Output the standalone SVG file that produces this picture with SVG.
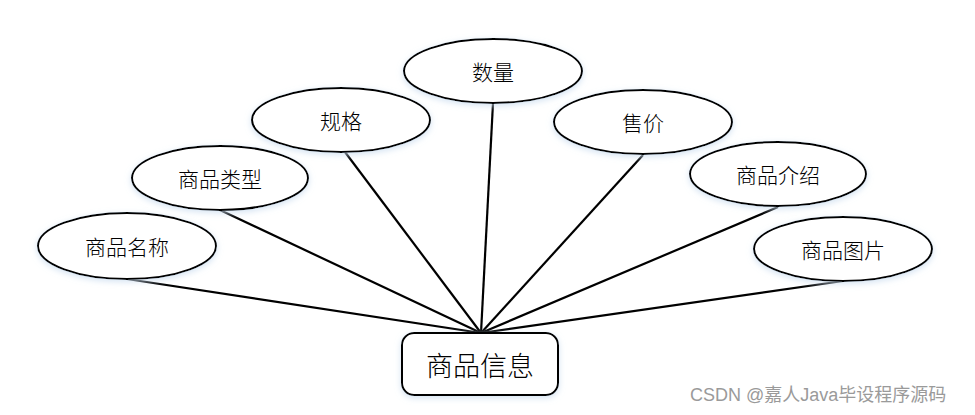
<svg xmlns="http://www.w3.org/2000/svg" width="975" height="415" viewBox="0 0 975 415">
  <style>
    .attr { fill: #ffffff; stroke: #000000; stroke-width: 2; }
    .ent { fill: #ffffff; stroke: #000000; stroke-width: 2; }
    .label { font-family: "Noto Sans CJK SC", "Liberation Serif", serif; font-size: 21px; font-weight: 300; fill: #000000; text-anchor: middle; dominant-baseline: central; }
    .title { font-family: "Noto Sans CJK SC", "Liberation Sans", sans-serif; font-size: 27px; font-weight: 300; fill: #000000; text-anchor: middle; dominant-baseline: central; }
    .link { stroke: #000000; stroke-width: 2.2; fill: none; }
    .wm { font-family: "Liberation Sans", "Noto Sans CJK SC", sans-serif; font-size: 18px; fill: #9a9a9a; }
  </style>
  <defs>
    <filter id="glow" x="-20%" y="-30%" width="140%" height="160%">
      <feDropShadow dx="0" dy="2" stdDeviation="3" flood-color="#c9dcef" flood-opacity="0.8"/>
    </filter>
  </defs>
  <rect width="975" height="415" fill="#ffffff"/>

  <g id="connectors">
    <line class="link" x1="127" y1="279" x2="481" y2="333"/>
    <line class="link" x1="220" y1="210" x2="481" y2="333"/>
    <line class="link" x1="345" y1="152" x2="481" y2="333"/>
    <line class="link" x1="493" y1="103" x2="481" y2="333"/>
    <line class="link" x1="643" y1="155" x2="481" y2="333"/>
    <line class="link" x1="778" y1="207" x2="481" y2="333"/>
    <line class="link" x1="843" y1="281" x2="481" y2="333"/>
  </g>

  <g id="attr-name">
    <ellipse class="attr" filter="url(#glow)" cx="127" cy="246" rx="89" ry="33"/>
    <text class="label" x="127" y="246">商品名称</text>
  </g>
  <g id="attr-type">
    <ellipse class="attr" filter="url(#glow)" cx="220" cy="178" rx="88" ry="32"/>
    <text class="label" x="220" y="178">商品类型</text>
  </g>
  <g id="attr-spec">
    <ellipse class="attr" filter="url(#glow)" cx="341" cy="120" rx="89" ry="32"/>
    <text class="label" x="341" y="120">规格</text>
  </g>
  <g id="attr-qty">
    <ellipse class="attr" filter="url(#glow)" cx="493" cy="71" rx="89" ry="32"/>
    <text class="label" x="493" y="71">数量</text>
  </g>
  <g id="attr-price">
    <ellipse class="attr" filter="url(#glow)" cx="643" cy="122" rx="89" ry="32"/>
    <text class="label" x="643" y="122">售价</text>
  </g>
  <g id="attr-intro">
    <ellipse class="attr" filter="url(#glow)" cx="778" cy="174" rx="88" ry="32"/>
    <text class="label" x="778" y="174">商品介绍</text>
  </g>
  <g id="attr-image">
    <ellipse class="attr" filter="url(#glow)" cx="843" cy="249" rx="89" ry="32"/>
    <text class="label" x="843" y="249">商品图片</text>
  </g>

  <g id="entity">
    <rect class="ent" filter="url(#glow)" x="402" y="333" width="156" height="62" rx="12" ry="12"/>
    <text class="title" x="480" y="364">商品信息</text>
  </g>

  <text class="wm" x="690" y="401">CSDN @嘉人Java毕设程序源码</text>
</svg>
